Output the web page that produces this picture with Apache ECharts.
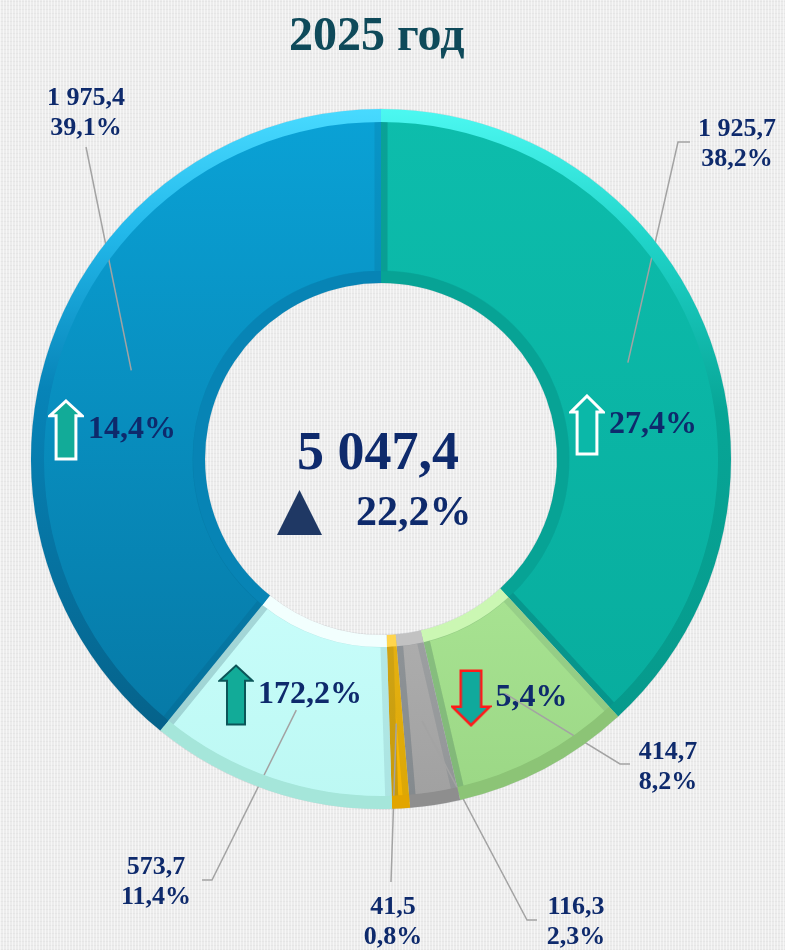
<!DOCTYPE html>
<html lang="ru">
<head>
<meta charset="UTF-8">
<title>2025 год</title>
<script src="https://cdn.jsdelivr.net/npm/echarts@6/dist/echarts.min.js"></script>
<style>
    html, body { margin: 0; padding: 0; }
    body {
        background-color: #ececec;
        background-image:
            repeating-linear-gradient(90deg, rgba(255,255,255,0.55) 0 1px, transparent 1px 3px),
            repeating-linear-gradient(0deg, rgba(0,0,0,0.03) 0 1px, transparent 1px 4px);
    }
    #chart { width: 785px; height: 950px; }
</style>
</head>
<body>
<div id="chart"></div>
<script>
    // данные (по часовой стрелке от верха)
    var values = [1925.7, 414.7, 116.3, 41.5, 573.7, 1975.4];
    var growth = [27.4, -5.4, null, null, 172.2, 14.4];
    var totalValue = 5047.4;
    var totalGrowth = 22.2;
    var titleText = '2025 год';

    // оформление
    var cx = 381, cy = 459;
    var navy = '#0e2a6c';
    var serif = '"Liberation Serif", "Times New Roman", serif';

    function vgrad(stops) {
        return {
            type: 'linear', x: 0, y: 0, x2: 0, y2: 1,
            colorStops: stops.map(function (s) { return { offset: s[0], color: s[1] }; })
        };
    }
    var bodyColors = [
        vgrad([[0, '#0dbdac'], [1, '#08ad9e']]),
        vgrad([[0, '#a8e392'], [1, '#9bd785']]),
        vgrad([[0, '#adadad'], [1, '#a0a0a0']]),
        vgrad([[0, '#fcc010'], [1, '#f2b400']]),
        vgrad([[0, '#c8fdfa'], [1, '#bcf8f3']]),
        vgrad([[0, '#0aa2d6'], [1, '#0679a6']])
    ];
    var innerColors = ['#07a395', '#cbf7b3', '#c2c2c2', '#ffd54d', '#f2fffe', '#0784b5'];
    var rimColors = [
        vgrad([[0, '#4cf8f1'], [0.22, '#1fd3c8'], [0.5, '#07a596'], [1, '#069a8c']]),
        '#8cc476', '#8e8e8e', '#e2a500', '#a5e6da',
        vgrad([[0, '#48daff'], [0.2, '#22b8ea'], [0.45, '#0784b8'], [1, '#05628a']])
    ];
    // подписи снаружи: центр текста и точки выноски
    var outPos = [[737, 144], [668, 767], [576, 922], [393, 922], [156, 882], [86, 113]];
    var outLine = [
        [[678, 142], [690, 142]],
        [[620, 764], [630, 764]],
        [[527, 920], [537, 920]],
        [[391, 882]],
        [[212, 880], [202, 880]],
        [[86, 147]]
    ];
    // подписи прироста внутри кольца
    var growthPos = [[633, 425], [509, 698], null, null, [290, 695], [112, 430]];
    var arrowKey = ['upA', 'down', null, null, 'upC', 'upB'];

    function fmtNum(v) {
        var s = v.toFixed(1).split('.');
        return s[0].replace(/\B(?=(\d{3})+(?!\d))/g, ' ') + ',' + s[1];
    }

    var sum = values.reduce(function (a, b) { return a + b; }, 0);
    function midPoint(i, r) {
        var cum = 0;
        for (var j = 0; j < i; j++) cum += values[j];
        var a = (cum + values[i] / 2) / sum * Math.PI * 2;
        return [cx + r * Math.sin(a), cy - r * Math.cos(a)];
    }

    // стрелки
    function arrow(w, h, dir, fill, stroke, lw, shaft, head) {
        var c = document.createElement('canvas');
        c.width = w; c.height = h;
        var g = c.getContext('2d');
        var p = lw / 2 + 0.5;
        var sw = w * shaft / 2, hh = h * head;
        var pts = [[w / 2, p], [w - p, hh], [w / 2 + sw, hh], [w / 2 + sw, h - p],
                   [w / 2 - sw, h - p], [w / 2 - sw, hh], [p, hh]];
        g.beginPath();
        pts.forEach(function (pt, k) {
            var y = dir < 0 ? h - pt[1] : pt[1];
            if (k === 0) g.moveTo(pt[0], y); else g.lineTo(pt[0], y);
        });
        g.closePath();
        g.fillStyle = fill;
        g.fill();
        g.lineWidth = lw;
        g.strokeStyle = stroke;
        g.lineJoin = 'miter';
        g.stroke();
        return c;
    }
    var arrows = {
        upA: arrow(36, 62, 1, '#0bb8a8', '#ffffff', 3, 0.55, 0.29),
        upB: arrow(36, 62, 1, '#12ab98', '#ffffff', 3, 0.55, 0.27),
        upC: arrow(36, 62, 1, '#12ab98', '#0b5558', 2, 0.5, 0.27),
        down: arrow(41, 58, -1, '#10a99c', '#ff1a1a', 2.5, 0.5, 0.35)
    };
    var richArrows = {};
    Object.keys(arrows).forEach(function (k) {
        richArrows[k] = {
            width: arrows[k].width, height: arrows[k].height,
            backgroundColor: { image: arrows[k] }
        };
    });
    richArrows.t = {
        fontFamily: serif, fontWeight: 'bold', fontSize: 32, color: navy,
        padding: [0, 0, 0, 4]
    };

    var chart = echarts.init(document.getElementById('chart'));

    function pieData(colors) {
        return values.map(function (v, i) {
            return { value: v, itemStyle: { color: colors[i] } };
        });
    }
    var common = {
        type: 'pie',
        center: [cx, cy],
        startAngle: 90,
        clockwise: true,
        silent: true,
        animation: false,
        avoidLabelOverlap: false,
        emphasis: { disabled: true }
    };

    var option = {
        backgroundColor: 'transparent',
        title: {
            text: titleText,
            left: 284,
            top: 9,
            textStyle: { fontFamily: serif, fontWeight: 'bold', fontSize: 48, color: '#0f4a5a' }
        },
        graphic: [
            {
                type: 'text', x: 378, y: 455, z: 10,
                style: { text: fmtNum(totalValue), font: 'bold 54px ' + serif, fill: navy,
                         align: 'center', verticalAlign: 'middle' }
            },
            {
                type: 'text', x: 356, y: 514, z: 10,
                style: { text: fmtNum(totalGrowth) + '%', font: 'bold 42px ' + serif, fill: navy,
                         align: 'left', verticalAlign: 'middle' }
            },
            {
                type: 'polygon', z: 10,
                shape: { points: [[277, 535], [322, 535], [299.5, 490]] },
                style: { fill: '#1f3864' }
            }
        ],
        series: [
            // основа + фаски по границам секторов
            Object.assign({}, common, {
                name: 'body',
                z: 2,
                radius: [182, 344],
                data: pieData(bodyColors),
                itemStyle: { borderWidth: 13, borderColor: 'rgba(0,30,50,0.09)' },
                label: { show: false },
                labelLine: { show: false }
            }),
            // внутренняя фаска + подписи прироста
            Object.assign({}, common, {
                name: 'inner',
                z: 3,
                radius: [176, 188],
                data: pieData(innerColors),
                label: {
                    show: true,
                    position: 'inside',
                    formatter: function (p) {
                        var g = growth[p.dataIndex];
                        if (g == null) return '';
                        return '{' + arrowKey[p.dataIndex] + '|}{t|' + fmtNum(Math.abs(g)) + '%}';
                    },
                    rich: richArrows
                },
                labelLine: { show: false },
                labelLayout: function (p) {
                    var pos = growthPos[p.dataIndex];
                    if (!pos) return { hideOverlap: false };
                    return { x: pos[0], y: pos[1], align: 'center', verticalAlign: 'middle' };
                }
            }),
            // внешний обод + подписи значений
            Object.assign({}, common, {
                name: 'rim',
                z: 4,
                radius: [337, 350],
                data: pieData(rimColors),
                label: {
                    show: true,
                    position: 'outside',
                    formatter: function (p) {
                        return fmtNum(p.value) + '\n' + (p.value / sum * 100).toFixed(1).replace('.', ',') + '%';
                    },
                    fontFamily: serif,
                    fontWeight: 'bold',
                    fontSize: 26,
                    lineHeight: 30,
                    color: navy,
                    align: 'center'
                },
                labelLine: {
                    show: true,
                    smooth: false,
                    lineStyle: { color: '#a3a3a3', width: 1.5 }
                },
                labelLayout: function (p) {
                    var i = p.dataIndex;
                    var start = midPoint(i, 265);
                    return {
                        x: outPos[i][0],
                        y: outPos[i][1],
                        align: 'center',
                        verticalAlign: 'middle',
                        labelLinePoints: [start].concat(outLine[i])
                    };
                }
            })
        ]
    };
    chart.setOption(option);
</script>
</body>
</html>
